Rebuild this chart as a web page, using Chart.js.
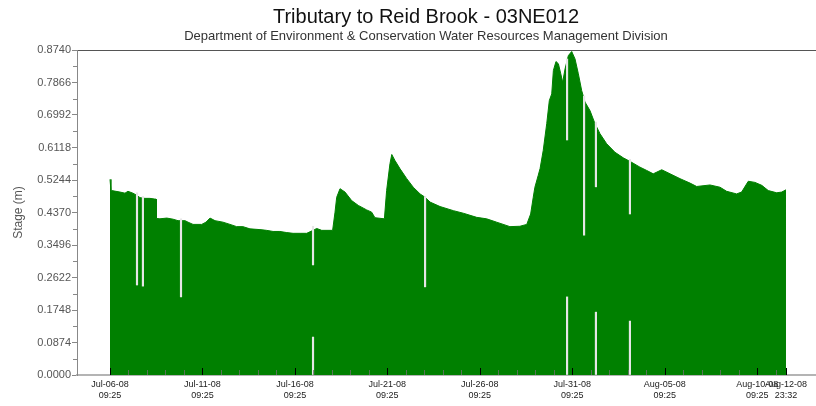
<!DOCTYPE html>
<html>
<head>
<meta charset="utf-8">
<title>Tributary to Reid Brook - 03NE012</title>
<script src="https://cdn.jsdelivr.net/npm/chart.js@4.4.1/dist/chart.umd.min.js"></script>
<style>
  html, body { margin: 0; padding: 0; background: #fff; overflow: hidden; }
  #wrap { width: 854px; height: 406px; }
</style>
</head>
<body>
<div id="wrap"><canvas id="stageChart" width="854" height="406"></canvas></div>
<script>
// days since Jul-06-08 09:25
const dayOffsets = [
  0.00, 0.05, 0.09, 0.54, 0.81, 0.97, 1.24, 1.46, 1.62, 1.89, 2.16, 2.43, 2.49, 2.51,
  2.70, 3.07, 3.41, 3.68, 4.06, 4.22, 4.49, 4.96, 5.19, 5.41, 5.68, 6.11, 6.49, 6.85,
  7.19, 7.57, 8.11, 8.47, 8.82, 9.19, 9.56, 9.90, 10.28, 10.64, 10.98, 11.18, 11.45,
  12.04, 12.17, 12.26, 12.44, 12.71, 13.07, 13.43, 13.88, 14.15, 14.33, 14.84, 14.96,
  15.14, 15.24, 15.41, 15.68, 16.05, 16.40, 16.77, 17.04, 17.31, 17.85, 18.57, 19.11,
  19.83, 20.37, 20.91, 21.63, 22.17, 22.54, 22.75, 22.89, 22.98, 23.16, 23.26, 23.43,
  23.62, 23.76, 23.89, 23.98, 24.12, 24.25, 24.38, 24.48, 24.61, 24.79, 24.97, 25.15,
  25.33, 25.51, 25.69, 25.96, 26.23, 26.50, 26.86, 27.31, 27.76, 28.21, 28.66, 29.03,
  29.38, 29.84, 30.29, 30.83, 31.37, 31.73, 32.45, 32.99, 33.35, 33.89, 34.16, 34.52,
  34.88, 35.25, 35.60, 36.06, 36.33, 36.56
];
// stage (m)
const stage = [
  0.526, 0.497, 0.496, 0.492, 0.489, 0.494, 0.489, 0.483, 0.477, 0.475, 0.475, 0.473, 0.473, 0.421,
  0.420, 0.422, 0.419, 0.415, 0.415, 0.411, 0.405, 0.405, 0.411, 0.422, 0.415, 0.411, 0.405, 0.399,
  0.399, 0.393, 0.391, 0.389, 0.386, 0.386, 0.383, 0.381, 0.381, 0.381, 0.389, 0.394, 0.389,
  0.389, 0.438, 0.478, 0.501, 0.492, 0.469, 0.456, 0.444, 0.438, 0.423, 0.420, 0.496,
  0.568, 0.593, 0.577, 0.555, 0.528, 0.505, 0.487, 0.478, 0.465, 0.453, 0.442, 0.435,
  0.424, 0.420, 0.411, 0.399, 0.400, 0.405, 0.433, 0.478, 0.505, 0.537, 0.555, 0.604,
  0.676, 0.738, 0.756, 0.819, 0.843, 0.837, 0.810, 0.787, 0.823, 0.859, 0.870, 0.850,
  0.810, 0.765, 0.734, 0.711, 0.676, 0.649, 0.622, 0.599, 0.584, 0.572, 0.559, 0.550,
  0.541, 0.552, 0.541, 0.528, 0.516, 0.507, 0.511, 0.505, 0.494, 0.487, 0.492, 0.521,
  0.518, 0.510, 0.496, 0.490, 0.492, 0.498
];

// missing-data gaps: day, low and high stage of the blank stretch
const gapDays = [1.46, 1.78, 3.84, 10.98, 10.98, 17.04, 24.72, 24.72, 25.64, 26.28, 26.28, 28.12, 28.12];
const gapLow  = [0.242, 0.239, 0.210, 0.296, 0.000, 0.237, 0.632, 0.000, 0.376, 0.506, 0.000, 0.433, 0.000];
const gapHigh = [0.490, 0.480, 0.420, 0.400, 0.102, 0.480, 0.850, 0.210, 0.750, 0.680, 0.169, 0.580, 0.145];

const tickDays  = [0, 5, 10, 15, 20, 25, 30, 35, 36.56];
const tickDates = ['Jul-06-08', 'Jul-11-08', 'Jul-16-08', 'Jul-21-08', 'Jul-26-08', 'Jul-31-08', 'Aug-05-08', 'Aug-10-08', 'Aug-12-08'];
const tickTimes = ['09:25', '09:25', '09:25', '09:25', '09:25', '09:25', '09:25', '09:25', '23:32'];

const stageTicks = [0.0000, 0.0874, 0.1748, 0.2622, 0.3496, 0.4370, 0.5244, 0.6118, 0.6992, 0.7866, 0.8740];

const X_MIN = -1.785, X_MAX = 40.13;
const FONT = 'Liberation Sans, Arial, sans-serif';

// small tick marks: y minors outside, x day ticks inside the plot
const tickMarks = {
  id: 'tickMarks',
  afterDatasetsDraw(chart) {
    const { ctx, chartArea, scales } = chart;
    const x = scales.x, y = scales.y;
    ctx.save();
    ctx.lineWidth = 1;
    ctx.strokeStyle = '#888';
    for (let i = 0; i < stageTicks.length - 1; i++) {
      const py = Math.round(y.getPixelForValue((stageTicks[i] + stageTicks[i + 1]) / 2)) + 0.5;
      ctx.beginPath();
      ctx.moveTo(chartArea.left - 4, py);
      ctx.lineTo(chartArea.left, py);
      ctx.stroke();
    }
    const last = tickDays[tickDays.length - 1];
    for (let d = 0; d <= Math.floor(last); d++) {
      const major = d % 5 === 0;
      const px = Math.round(x.getPixelForValue(d)) + 0.5;
      ctx.strokeStyle = major ? '#000' : 'rgba(110,110,110,0.8)';
      ctx.beginPath();
      ctx.moveTo(px, chartArea.bottom);
      ctx.lineTo(px, chartArea.bottom - (major ? 7 : 5));
      ctx.stroke();
    }
    const pe = Math.round(x.getPixelForValue(last)) + 0.5;
    ctx.strokeStyle = '#000';
    ctx.beginPath();
    ctx.moveTo(pe, chartArea.bottom);
    ctx.lineTo(pe, chartArea.bottom - 7);
    ctx.stroke();
    ctx.restore();
  }
};

const ctx = document.getElementById('stageChart');
new Chart(ctx, {
  type: 'line',
  data: {
    datasets: [
      {
        type: 'bar',
        label: 'gaps',
        data: gapDays.map((d, i) => ({ x: d, y: [gapLow[i], gapHigh[i]] })),
        backgroundColor: '#e6e6e6',
        borderWidth: 0,
        barThickness: 1.5,
        grouped: false,
        order: 0
      },
      {
        label: 'Stage',
        data: dayOffsets.map((d, i) => ({ x: d, y: stage[i] })),
        borderColor: '#008000',
        backgroundColor: '#008000',
        borderWidth: 1,
        pointRadius: 0,
        tension: 0,
        fill: 'origin',
        order: 1
      }
    ]
  },
  options: {
    responsive: false,
    animation: false,
    devicePixelRatio: 1,
    layout: { padding: { left: 0, right: 2, top: 0, bottom: 0 } },
    plugins: {
      legend: { display: false },
      tooltip: { enabled: false },
      title: {
        display: true,
        text: 'Tributary to Reid Brook - 03NE012',
        color: '#111',
        font: { family: FONT, size: 20, weight: 'normal', lineHeight: 1.2 },
        padding: { top: 5, bottom: 0 }
      },
      subtitle: {
        display: true,
        text: 'Department of Environment & Conservation Water Resources Management Division',
        color: '#333',
        font: { family: FONT, size: 13, lineHeight: 1.2 },
        padding: { top: 0, bottom: 5.4 }
      }
    },
    scales: {
      x: {
        type: 'linear',
        min: X_MIN,
        max: X_MAX,
        offset: false,
        z: 1,
        afterBuildTicks: (scale) => { scale.ticks = tickDays.map(v => ({ value: v })); },
        afterFit: (scale) => { scale.height = 31; },
        grid: { display: false, drawTicks: false, tickLength: 0 },
        border: { display: true, color: '#b4b4b4', width: 2 },
        ticks: {
          autoSkip: false,
          maxRotation: 0,
          minRotation: 0,
          padding: 4,
          color: '#222',
          font: { family: FONT, size: 9, lineHeight: 1.2 },
          callback: (value, index) => [tickDates[index], tickTimes[index]]
        }
      },
      xTop: {
        type: 'linear',
        position: 'top',
        min: X_MIN,
        max: X_MAX,
        afterFit: (scale) => { scale.height = 0; },
        grid: { display: false },
        ticks: { display: false },
        border: { display: true, color: '#555', width: 1 }
      },
      y: {
        min: 0,
        max: 0.874,
        z: 1,
        afterBuildTicks: (scale) => { scale.ticks = stageTicks.map(v => ({ value: v })); },
        afterFit: (scale) => { scale.width = 77; },
        grid: { display: true, drawOnChartArea: false, drawTicks: true, tickLength: 5, tickColor: '#888' },
        border: { display: true, color: '#888', width: 1 },
        ticks: {
          padding: 1,
          color: '#555',
          font: { family: FONT, size: 11 },
          callback: (value) => value.toFixed(4)
        },
        title: {
          display: true,
          text: 'Stage (m)',
          color: '#555',
          font: { family: FONT, size: 12, lineHeight: 1.2 },
          padding: { top: 11, bottom: 0 }
        }
      }
    }
  },
  plugins: [tickMarks]
});
</script>
</body>
</html>
